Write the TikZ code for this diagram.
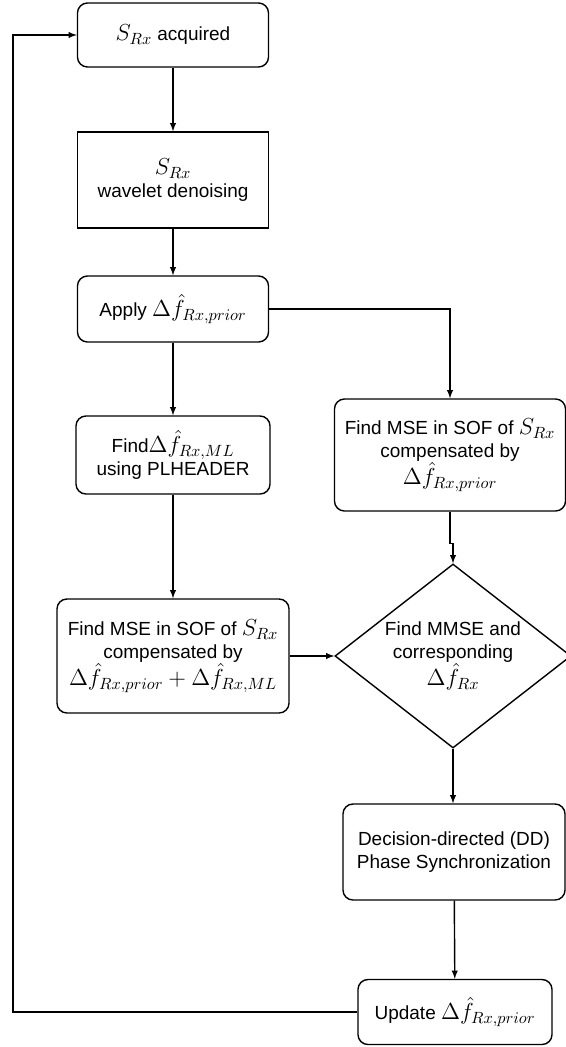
\RequirePackage{fix-cm}
\documentclass[tikz,border=0pt]{standalone}
\usepackage{fontspec}
\setmainfont{Liberation Sans}
\usetikzlibrary{shapes.geometric}
\newcommand{\mth}[1]{{\fontsize{16.5}{16}\selectfont$#1$}}
\begin{document}
\begin{tikzpicture}[x=0.025cm, y=-0.025cm, line width=1pt, >={latex[scale=1.5]},
		font=\fontsize{13.5}{16}\selectfont,
		rbox/.style={draw, rounded corners=0.25cm, align=center, inner sep=0pt},
		sbox/.style={draw, align=center, inner sep=0pt},
		dbox/.style={draw, diamond, aspect=1.28, align=center, inner sep=0pt}]
		\pgfmathsetmacro{\lx}{173}
		\pgfmathsetmacro{\rx}{453}
		\useasboundingbox (0,0) rectangle (566,1047);
		\node[rbox, minimum width=4.775cm, minimum height=1.6cm] (acq) at (\lx,35) {\mth{S_{Rx}} acquired};
		\node[sbox, minimum width=4.775cm, minimum height=2.4cm] (den) at (\lx,180) {\mth{S_{Rx}}\\wavelet denoising};
		\node[rbox, minimum width=4.775cm, minimum height=1.65cm] (app) at (\lx,309) {Apply \mth{\Delta\hat{f}_{Rx,prior}}};
		\node[rbox, minimum width=4.85cm, minimum height=1.95cm] (plh) at (\lx,455) {Find\mth{\Delta\hat{f}_{Rx,ML}}\\using PLHEADER};
		\node[rbox, minimum width=5.8cm, minimum height=2.85cm] (msel) at (\lx,656) {Find MSE in SOF of \mth{S_{Rx}}\\compensated by\\\mth{\Delta\hat{f}_{Rx,prior}+\Delta\hat{f}_{Rx,ML}}};
		\node[rbox, minimum width=5.775cm, minimum height=2.8cm] (mser) at (450,455) {Find MSE in SOF of \mth{S_{Rx}}\\compensated by\\\mth{\Delta\hat{f}_{Rx,prior}}};
		\node[dbox, minimum width=5.9cm, minimum height=4.6cm] (mmse) at (\rx,656) {Find MMSE and\\corresponding\\\mth{\Delta\hat{f}_{Rx}}};
		\node[rbox, minimum width=5.55cm, minimum height=2.4cm] (dd) at (454,852) {Decision-directed (DD)\\Phase Synchronization};
		\node[rbox, minimum width=4.85cm, minimum height=1.625cm] (upd) at (455,1012) {Update \mth{\Delta\hat{f}_{Rx,prior}}};
		\coordinate (loop) at (13,1012);
		\draw[->] (acq) -- (den);
		\draw[->] (den) -- (app);
		\draw[->] (app) -- (plh);
		\draw[->] (plh) -- (msel);
		\draw[->] (app.east) -| (mser.north);
		\draw[->] (mser.south) -- ++(0,32) -| (mmse.north);
		\draw[->] (msel.east) -- (mmse.west);
		\draw[->] (mmse.south) -- (mmse.south |- dd.north);
		\draw[->] (dd) -- (upd);
		\draw[->] (upd.west) -- (loop) |- (acq.west);
	\end{tikzpicture}
\end{document}
